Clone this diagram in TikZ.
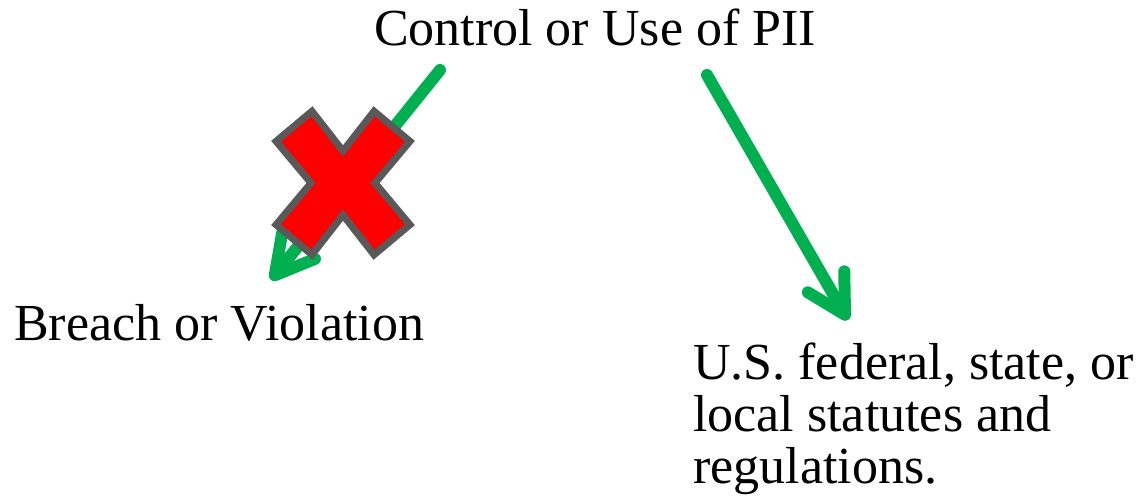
\documentclass[tikz,border=0pt]{standalone}
\usepackage{fontspec}
\setmainfont{Liberation Serif}
\usetikzlibrary{arrows.meta,positioning}
\definecolor{arrowgreen}{HTML}{00B050}
\definecolor{crossgray}{HTML}{595959}

\begin{document}
\begin{tikzpicture}[x=1pt,y=-1pt,
    label/.style={inner sep=0pt,font=\fontsize{52}{52}\selectfont},
    flow/.style={arrowgreen,line width=12pt,line cap=round,
                 -{Straight Barb[length=38pt,width=42pt,round]}}]
    \useasboundingbox (0,0) rectangle (1142,499);

    \node[label,anchor=base]             (pii)  at (595,45)  {Control or Use of PII};
    \node[label,anchor=base west]        (brv)  at (14,340)  {Breach or Violation};
    \node[label,anchor=north west,align=left] (law) at (693,343)
        {U.S. federal, state, or\\local statutes and\\regulations.};

    \coordinate (a1) at (440,70);
    \coordinate (b1) at (271,280);
    \coordinate (a2) at (707,75);
    \coordinate (b2) at (848,320);

    \path[flow] (a1) edge (b1)
                (a2) edge (b2);

    % the cross on the breach arrow
    \filldraw[fill=red,draw=crossgray,line width=7pt,line join=miter,shift={(343,183)},scale=0.97]
        (0,-33) -- (32,-74) -- (69,-43) -- (33,0) -- (69,43) -- (32,74)
        -- (0,33) -- (-32,74) -- (-69,43) -- (-33,0) -- (-69,-43) -- (-32,-74) -- cycle;
\end{tikzpicture}
\end{document}
